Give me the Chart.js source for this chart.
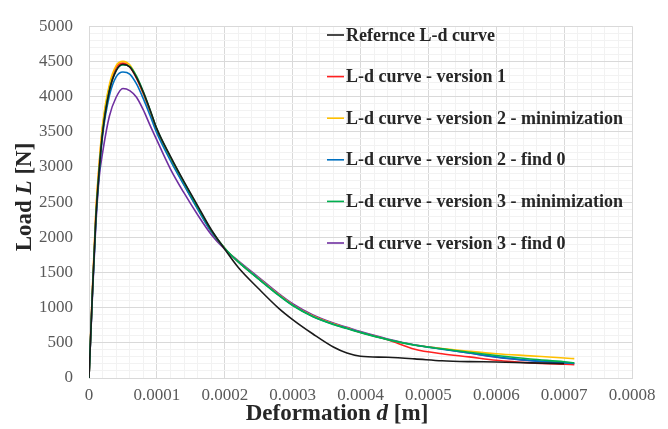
<!DOCTYPE html>
<html>
<head>
<meta charset="utf-8">
<script src="https://cdn.jsdelivr.net/npm/chart.js@4/dist/chart.umd.min.js"></script>
<style>
  html, body { margin: 0; padding: 0; background: #fff; }
</style>
</head>
<body>
<canvas id="ldChart" width="668" height="429"></canvas>
<script>
// Deformation d [m] shared by all curves
const deformation = [0, 0.000005, 0.00001, 0.000015, 0.00002, 0.00003, 0.00004, 0.00005, 0.00006, 0.00007,
  0.00008, 0.00009, 0.0001, 0.00012, 0.00014, 0.00016, 0.00018, 0.0002, 0.00022, 0.00025,
  0.00028, 0.0003, 0.00033, 0.00036, 0.00038, 0.0004, 0.00044, 0.00048, 0.00052, 0.00056,
  0.0006, 0.00065, 0.0007, 0.000715];

// Load L [N] per curve
const referenceLoad = [0, 1200, 2250, 2950, 3480, 4080, 4370, 4460, 4420, 4270,
  4060, 3810, 3540, 3150, 2790, 2450, 2110, 1830, 1570, 1268,
  986, 830, 625, 440, 355, 310, 294, 272, 245, 233,
  228, 215, 205, null];
const version1Load = [0, 1230, 2320, 3020, 3560, 4130, 4410, 4475, 4420, 4260,
  4040, 3780, 3510, 3110, 2750, 2410, 2080, 1840, 1650, 1410,
  1180, 1040, 880, 770, 710, 650, 545, 410, 345, 300,
  252, 215, 195, 190];
const version2MinLoad = [0, 1260, 2360, 3060, 3600, 4170, 4440, 4500, 4450, 4280,
  4050, 3790, 3520, 3120, 2760, 2420, 2090, 1845, 1655, 1415,
  1180, 1040, 880, 770, 710, 650, 548, 468, 420, 380,
  345, 315, 285, 275];
const version2FindLoad = [0, 1180, 2220, 2910, 3440, 4010, 4280, 4350, 4320, 4180,
  3970, 3730, 3480, 3090, 2740, 2400, 2080, 1840, 1650, 1410,
  1175, 1035, 875, 765, 708, 650, 548, 468, 410, 355,
  300, 250, 215, 205];
const version3MinLoad = [0, 1200, 2260, 2960, 3500, 4090, 4370, 4450, 4430, 4290,
  4070, 3810, 3540, 3140, 2780, 2430, 2100, 1845, 1650, 1405,
  1170, 1030, 870, 760, 702, 645, 545, 465, 415, 365,
  320, 270, 230, 215];
const version3FindLoad = [0, 1150, 2160, 2850, 3200, 3720, 3990, 4115, 4085, 3990,
  3810, 3590, 3380, 2970, 2630, 2320, 2040, 1830, 1665, 1430,
  1195, 1055, 895, 780, 720, 660, 555, 470, 415, 355,
  295, 245, 215, 205];

const seriesLabels = [
  'Refernce L-d curve',
  'L-d curve - version 1',
  'L-d curve - version 2 - minimization',
  'L-d curve - version 2 - find 0',
  'L-d curve - version 3 - minimization',
  'L-d curve - version 3 - find 0',
];
const seriesLoads = [referenceLoad, version1Load, version2MinLoad, version2FindLoad, version3MinLoad, version3FindLoad];
const seriesColors = ['#1a1a1a', '#ff2020', '#ffc000', '#0070c0', '#00b050', '#7030a0'];

const SERIF = '"Liberation Serif", "DejaVu Serif", serif';

function toPoints(loads) {
  return deformation.map((d, i) => ({ x: d, y: loads[i] }));
}

// later series sit on top, as in the original
const datasets = seriesLabels.map((label, i) => ({
  label,
  data: toPoints(seriesLoads[i]),
  borderColor: seriesColors[i],
  borderWidth: 1.6,
  pointRadius: 0,
  fill: false,
  cubicInterpolationMode: 'monotone',
  order: i === 0 ? 2 : (i === 5 ? 7 : 8 - i),
}));

function isMajor(v, step) {
  const r = v / step;
  return Math.abs(r - Math.round(r)) < 1e-6;
}

// legend drawn inside the plot area, one entry per row
const insideLegend = {
  id: 'insideLegend',
  afterDraw(chart) {
    const ctx = chart.ctx;
    ctx.save();
    ctx.font = 'bold 18px ' + SERIF;
    ctx.textBaseline = 'middle';
    seriesLabels.forEach((label, i) => {
      const y = 35 + i * 41.6;
      ctx.strokeStyle = seriesColors[i];
      ctx.lineWidth = 1.6;
      ctx.beginPath();
      ctx.moveTo(327, y);
      ctx.lineTo(344, y);
      ctx.stroke();
      ctx.fillStyle = '#262626';
      ctx.fillText(label, 346, y + 1);
    });
    ctx.restore();
  },
};

// axis titles with italic symbol
function drawRich(ctx, parts, cx, cy) {
  let total = 0;
  parts.forEach(p => { ctx.font = p.font; total += ctx.measureText(p.text).width; });
  let x = cx - total / 2;
  parts.forEach(p => {
    ctx.font = p.font;
    ctx.fillText(p.text, x, cy);
    x += ctx.measureText(p.text).width;
  });
}

const axisTitles = {
  id: 'axisTitles',
  afterDraw(chart) {
    const ctx = chart.ctx;
    const b = 'bold 23px ' + SERIF;
    const bi = 'italic bold 23px ' + SERIF;
    ctx.save();
    ctx.fillStyle = '#262626';
    ctx.textBaseline = 'middle';
    drawRich(ctx, [{ text: 'Deformation ', font: b }, { text: 'd', font: bi }, { text: ' [m]', font: b }], 337, 414);
    ctx.translate(25, 197);
    ctx.rotate(-Math.PI / 2);
    drawRich(ctx, [{ text: 'Load ', font: b }, { text: 'L', font: bi }, { text: ' [N]', font: b }], 0, 0);
    ctx.restore();
  },
};

new Chart(document.getElementById('ldChart'), {
  type: 'line',
  data: { datasets },
  plugins: [insideLegend, axisTitles],
  options: {
    responsive: false,
    animation: false,
    devicePixelRatio: 1,
    layout: { padding: { top: 13, right: 36, left: 0, bottom: 0 } },
    plugins: {
      legend: { display: false },
      tooltip: { enabled: false },
    },
    scales: {
      x: {
        type: 'linear',
        min: 0,
        max: 0.0008,
        afterFit: s => { s.height = 51; },
        border: { display: true, color: '#d9d9d9' },
        grid: {
          drawTicks: false,
          color: c => isMajor(c.tick.value, 0.0001) ? '#d9d9d9' : '#f2f2f2',
        },
        ticks: {
          stepSize: 0.00002,
          autoSkip: false,
          maxRotation: 0,
          padding: 7,
          color: '#595959',
          font: { family: SERIF, size: 17 },
          callback: v => isMajor(v, 0.0001) ? String(Math.round(v * 10000) / 10000) : '',
        },
      },
      y: {
        min: 0,
        max: 5000,
        afterFit: s => { s.width = 89; },
        border: { display: true, color: '#d9d9d9' },
        grid: {
          drawTicks: false,
          color: c => isMajor(c.tick.value, 500) ? '#d9d9d9' : '#f2f2f2',
        },
        ticks: {
          stepSize: 100,
          autoSkip: false,
          padding: 16,
          color: '#595959',
          font: { family: SERIF, size: 17 },
          callback: v => isMajor(v, 500) ? String(v) : '',
        },
      },
    },
  },
});
</script>
</body>
</html>
